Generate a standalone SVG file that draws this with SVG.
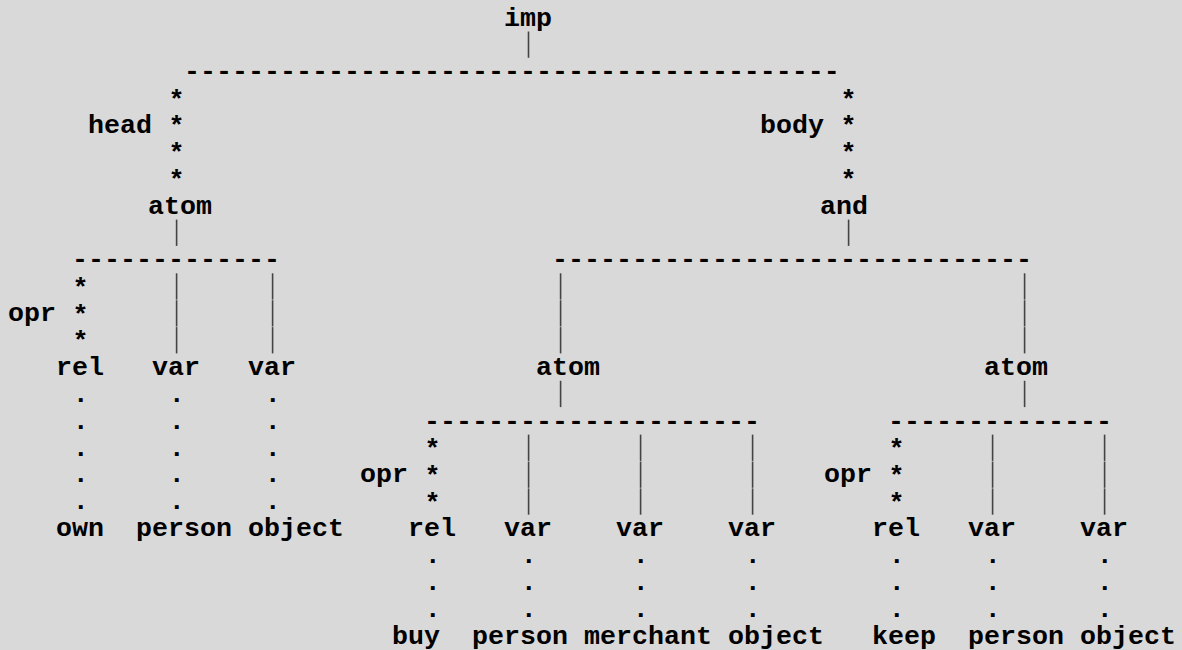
<svg xmlns="http://www.w3.org/2000/svg" width="1182" height="650" viewBox="0 0 1182 650">
<style>
text{font-family:"Liberation Mono","DejaVu Sans Mono",monospace;font-size:26.667px;font-weight:bold;fill:#000}
.c{text-anchor:middle}
.bar{stroke:#444;stroke-width:1.6}
</style>
<rect width="1182" height="650" fill="#d9d9d9"/>
<g id="connectors">
  <g id="bars">
    <line class="bar" x1="528.5" y1="31.5" x2="528.5" y2="57.8"/>
    <line class="bar" x1="176.6" y1="219.6" x2="176.6" y2="245.9"/>
    <line class="bar" x1="848.6" y1="219.6" x2="848.6" y2="245.9"/>
    <line class="bar" x1="176.6" y1="273.3" x2="176.6" y2="299.6"/>
    <line class="bar" x1="176.6" y1="300.2" x2="176.6" y2="326.5"/>
    <line class="bar" x1="176.6" y1="327.1" x2="176.6" y2="353.4"/>
    <line class="bar" x1="272.6" y1="273.3" x2="272.6" y2="299.6"/>
    <line class="bar" x1="272.6" y1="300.2" x2="272.6" y2="326.5"/>
    <line class="bar" x1="272.6" y1="327.1" x2="272.6" y2="353.4"/>
    <line class="bar" x1="560.6" y1="273.3" x2="560.6" y2="299.6"/>
    <line class="bar" x1="560.6" y1="300.2" x2="560.6" y2="326.5"/>
    <line class="bar" x1="560.6" y1="327.1" x2="560.6" y2="353.4"/>
    <line class="bar" x1="1024.6" y1="273.3" x2="1024.6" y2="299.6"/>
    <line class="bar" x1="1024.6" y1="300.2" x2="1024.6" y2="326.5"/>
    <line class="bar" x1="1024.6" y1="327.1" x2="1024.6" y2="353.4"/>
    <line class="bar" x1="560.6" y1="380.8" x2="560.6" y2="407.1"/>
    <line class="bar" x1="1024.6" y1="380.8" x2="1024.6" y2="407.1"/>
    <line class="bar" x1="528.6" y1="434.6" x2="528.6" y2="460.9"/>
    <line class="bar" x1="528.6" y1="461.5" x2="528.6" y2="487.8"/>
    <line class="bar" x1="528.6" y1="488.4" x2="528.6" y2="514.7"/>
    <line class="bar" x1="640.6" y1="434.6" x2="640.6" y2="460.9"/>
    <line class="bar" x1="640.6" y1="461.5" x2="640.6" y2="487.8"/>
    <line class="bar" x1="640.6" y1="488.4" x2="640.6" y2="514.7"/>
    <line class="bar" x1="752.6" y1="434.6" x2="752.6" y2="460.9"/>
    <line class="bar" x1="752.6" y1="461.5" x2="752.6" y2="487.8"/>
    <line class="bar" x1="752.6" y1="488.4" x2="752.6" y2="514.7"/>
    <line class="bar" x1="992.6" y1="434.6" x2="992.6" y2="460.9"/>
    <line class="bar" x1="992.6" y1="461.5" x2="992.6" y2="487.8"/>
    <line class="bar" x1="992.6" y1="488.4" x2="992.6" y2="514.7"/>
    <line class="bar" x1="1104.6" y1="434.6" x2="1104.6" y2="460.9"/>
    <line class="bar" x1="1104.6" y1="461.5" x2="1104.6" y2="487.8"/>
    <line class="bar" x1="1104.6" y1="488.4" x2="1104.6" y2="514.7"/>
  </g>
  <g id="dashes">
    <text x="184" y="79.35">-----------------------------------------</text>
    <text x="72" y="267.48">-------------</text>
    <text x="552" y="267.48">------------------------------</text>
    <text x="424" y="428.73">---------------------</text>
    <text x="888" y="428.73">--------------</text>
  </g>
  <g id="stars">
    <text class="c" x="176.5" y="107.5">*</text>
    <text class="c" x="176.5" y="134.4">*</text>
    <text class="c" x="176.5" y="161.3">*</text>
    <text class="c" x="176.5" y="188.1">*</text>
    <text class="c" x="848.5" y="107.5">*</text>
    <text class="c" x="848.5" y="134.4">*</text>
    <text class="c" x="848.5" y="161.3">*</text>
    <text class="c" x="848.5" y="188.1">*</text>
    <text class="c" x="80.5" y="295.6">*</text>
    <text class="c" x="80.5" y="322.5">*</text>
    <text class="c" x="80.5" y="349.4">*</text>
    <text class="c" x="432.5" y="456.9">*</text>
    <text class="c" x="432.5" y="483.8">*</text>
    <text class="c" x="432.5" y="510.6">*</text>
    <text class="c" x="896.5" y="456.9">*</text>
    <text class="c" x="896.5" y="483.8">*</text>
    <text class="c" x="896.5" y="510.6">*</text>
  </g>
  <g id="dots">
    <text class="c" x="80.7" y="401.85">.</text>
    <text class="c" x="80.7" y="428.73">.</text>
    <text class="c" x="80.7" y="455.6">.</text>
    <text class="c" x="80.7" y="482.48">.</text>
    <text class="c" x="80.7" y="509.35">.</text>
    <text class="c" x="176.7" y="401.85">.</text>
    <text class="c" x="176.7" y="428.73">.</text>
    <text class="c" x="176.7" y="455.6">.</text>
    <text class="c" x="176.7" y="482.48">.</text>
    <text class="c" x="176.7" y="509.35">.</text>
    <text class="c" x="272.7" y="401.85">.</text>
    <text class="c" x="272.7" y="428.73">.</text>
    <text class="c" x="272.7" y="455.6">.</text>
    <text class="c" x="272.7" y="482.48">.</text>
    <text class="c" x="272.7" y="509.35">.</text>
    <text class="c" x="432.7" y="563.1">.</text>
    <text class="c" x="432.7" y="589.98">.</text>
    <text class="c" x="432.7" y="616.85">.</text>
    <text class="c" x="528.7" y="563.1">.</text>
    <text class="c" x="528.7" y="589.98">.</text>
    <text class="c" x="528.7" y="616.85">.</text>
    <text class="c" x="640.7" y="563.1">.</text>
    <text class="c" x="640.7" y="589.98">.</text>
    <text class="c" x="640.7" y="616.85">.</text>
    <text class="c" x="752.7" y="563.1">.</text>
    <text class="c" x="752.7" y="589.98">.</text>
    <text class="c" x="752.7" y="616.85">.</text>
    <text class="c" x="896.7" y="563.1">.</text>
    <text class="c" x="896.7" y="589.98">.</text>
    <text class="c" x="896.7" y="616.85">.</text>
    <text class="c" x="992.7" y="563.1">.</text>
    <text class="c" x="992.7" y="589.98">.</text>
    <text class="c" x="992.7" y="616.85">.</text>
    <text class="c" x="1104.7" y="563.1">.</text>
    <text class="c" x="1104.7" y="589.98">.</text>
    <text class="c" x="1104.7" y="616.85">.</text>
  </g>
  <g id="edge-labels">
    <text x="88" y="133.1">head</text>
    <text x="760" y="133.1">body</text>
    <text x="8" y="321.23">opr</text>
    <text x="360" y="482.48">opr</text>
    <text x="824" y="482.48">opr</text>
  </g>
</g>
<g id="node-imp"><text x="504" y="25.6">imp</text></g>
<g id="node-atom-head"><text x="148" y="213.73">atom</text></g>
<g id="node-and"><text x="820" y="213.73">and</text></g>
<g id="node-rel-1"><text x="56" y="374.98">rel</text></g>
<g id="node-var-1"><text x="152" y="374.98">var</text></g>
<g id="node-var-2"><text x="248" y="374.98">var</text></g>
<g id="node-atom-2"><text x="536" y="374.98">atom</text></g>
<g id="node-atom-3"><text x="984" y="374.98">atom</text></g>
<g id="node-own"><text x="56" y="536.23">own</text></g>
<g id="node-person-1"><text x="136" y="536.23">person</text></g>
<g id="node-object-1"><text x="248" y="536.23">object</text></g>
<g id="node-rel-2"><text x="408" y="536.23">rel</text></g>
<g id="node-var-3"><text x="504" y="536.23">var</text></g>
<g id="node-var-4"><text x="616" y="536.23">var</text></g>
<g id="node-var-5"><text x="728" y="536.23">var</text></g>
<g id="node-rel-3"><text x="872" y="536.23">rel</text></g>
<g id="node-var-6"><text x="968" y="536.23">var</text></g>
<g id="node-var-7"><text x="1080" y="536.23">var</text></g>
<g id="node-buy"><text x="392" y="643.73">buy</text></g>
<g id="node-person-2"><text x="472" y="643.73">person</text></g>
<g id="node-merchant"><text x="584" y="643.73">merchant</text></g>
<g id="node-object-2"><text x="728" y="643.73">object</text></g>
<g id="node-keep"><text x="872" y="643.73">keep</text></g>
<g id="node-person-3"><text x="968" y="643.73">person</text></g>
<g id="node-object-3"><text x="1080" y="643.73">object</text></g>
</svg>
